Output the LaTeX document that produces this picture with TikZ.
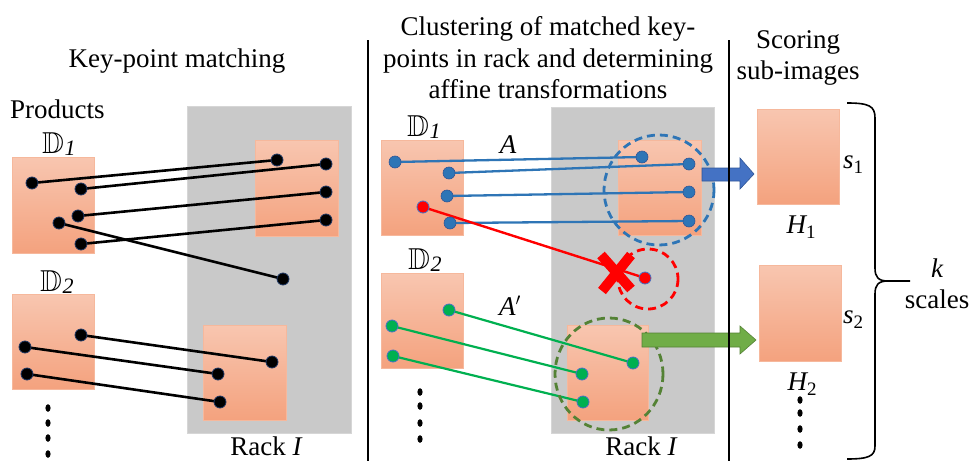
\documentclass[tikz,border=0pt]{standalone}
\usepackage{fontspec}
\setmainfont{Liberation Serif}
\usepackage{amssymb}
\pgfdeclarelayer{bg}\pgfdeclarelayer{lines}\pgfsetlayers{bg,lines,main}
\definecolor{orTop}{RGB}{248,198,176}
\definecolor{orBot}{RGB}{244,162,126}
\definecolor{orEdge}{RGB}{246,184,156}
\definecolor{rackgray}{RGB}{201,201,201}
\definecolor{rackedge}{RGB}{214,214,214}
\definecolor{kblue}{RGB}{46,117,182}
\definecolor{arrblue}{RGB}{68,114,196}
\definecolor{arrblueedge}{RGB}{47,85,151}
\definecolor{kgreen}{RGB}{0,176,80}
\definecolor{dgreen}{RGB}{84,130,53}
\definecolor{agreen}{RGB}{112,173,71}
\definecolor{agreenedge}{RGB}{84,130,53}
\definecolor{kred}{RGB}{255,0,0}
\definecolor{dotedge}{RGB}{31,56,100}
\newcommand\mySub[1]{\raisebox{-0.22em}{\fontsize{19}{19}\selectfont #1}}
\newcommand\myD[1]{\scalebox{1.12}{$\mathbb{D}$}\kern0.5pt\raisebox{-2pt}{\fontsize{22}{22}\selectfont\itshape #1}}
\tikzset{
  txt/.style={font=\fontsize{27}{31}\selectfont, inner sep=0pt, anchor=base},
  prodbox/.style={top color=orTop, bottom color=orBot, draw=orEdge, line width=0.8pt},
  rack/.style={fill=rackgray, draw=rackedge, line width=0.8pt},
  kdot/.style={circle, fill=black, draw=dotedge, line width=0.8pt, inner sep=0pt, minimum size=12pt},
  bdot/.style={circle, fill=kblue, draw=arrblueedge, line width=0.6pt, inner sep=0pt, minimum size=12pt},
  gdot/.style={circle, fill=kgreen, draw=arrblue, line width=0.8pt, inner sep=0pt, minimum size=12pt},
  rdot/.style={circle, fill=kred, draw=arrblue, line width=0.8pt, inner sep=0pt, minimum size=12pt},
  kline/.style={line width=2.6pt, black},
  bline/.style={line width=2.3pt, kblue},
  gline/.style={line width=2.2pt, kgreen},
  rline/.style={line width=2.4pt, kred},
  dcirc/.style={line width=2.8pt, dash pattern=on 8pt off 5pt},
  vdots/.style={fill=black},
  divider/.style={line width=2pt, black}
}
\begin{document}
\begin{tikzpicture}[x=1pt,y=-1pt]
\useasboundingbox (0,0) rectangle (969,461);
% ---------------- background shapes
\begin{pgfonlayer}{bg}
  \fill[white] (0,0) rectangle (969,461);
  \draw[rack] (187,106) rectangle (351,433);
  \draw[rack] (551,107) rectangle (714,433);
  \draw[prodbox] (12,157) rectangle (94,253);
  \draw[prodbox] (12,294) rectangle (94,389);
  \draw[prodbox] (255,140) rectangle (338,236);
  \draw[prodbox] (203,325) rectangle (286,420);
  \draw[prodbox] (381,140) rectangle (463,235);
  \draw[prodbox] (381,273) rectangle (463,368);
  \draw[prodbox] (618,140) rectangle (701,235);
  \draw[prodbox] (567,325) rectangle (648,420);
  \draw[prodbox] (757,109) rectangle (839,204);
  \draw[prodbox] (759,265) rectangle (841,361);
\end{pgfonlayer}
% ---------------- titles and labels
\node[txt] (t1) at (177,67) {Key-point matching};
\node[txt] (t2a) at (548,35) {Clustering of matched key-};
\node[txt] (t2b) at (548,67) {points in rack and determining};
\node[txt] (t2c) at (548,98) {affine transformations};
\node[txt] (t3a) at (798,48) {Scoring};
\node[txt] (t3b) at (798,79) {sub-images};
\node[txt, anchor=base west] (prod) at (10,118) {Products};
\node[txt, anchor=base west] (dl1) at (42,153) {\myD{1}};
\node[txt, anchor=base west] (dl2) at (40,291) {\myD{2}};
\node[txt, anchor=base west] (dm1) at (407,136) {\myD{1}};
\node[txt, anchor=base west] (dm2) at (408,269) {\myD{2}};
\node[txt] (la) at (508,153) {\itshape A};
\node[txt] (lap) at (510,315) {{\itshape A}$^\prime$};
\node[txt] (rk1) at (266,455) {Rack {\itshape I}};
\node[txt] (rk2) at (641,455) {Rack {\itshape I}};
\node[txt] (h1) at (801,233) {{\itshape H}\mySub{1}};
\node[txt] (h2) at (802,390) {{\itshape H}\mySub{2}};
\node[txt] (s1) at (853,168) {{\itshape s}\mySub{1}};
\node[txt] (s2) at (853,323) {{\itshape s}\mySub{2}};
\node[txt] (kk) at (937,277) {\itshape k};
\node[txt] (sc) at (937,308) {scales};
% ---------------- left panel dots
\node[kdot] (p1) at (32,183) {};
\node[kdot] (p2) at (81,189) {};
\node[kdot] (p3) at (78,216) {};
\node[kdot] (p4) at (59,223) {};
\node[kdot] (p5) at (81,244) {};
\node[kdot] (r1) at (277,160) {};
\node[kdot] (r2) at (326,164) {};
\node[kdot] (r3) at (326,192) {};
\node[kdot] (r4) at (326,220) {};
\node[kdot] (r5) at (283,279) {};
\node[kdot] (q1) at (81,335) {};
\node[kdot] (q2) at (25,347) {};
\node[kdot] (q3) at (27,374) {};
\node[kdot] (u1) at (272,362) {};
\node[kdot] (u2) at (218,374) {};
\node[kdot] (u3) at (220,402) {};
\begin{pgfonlayer}{lines}
  \draw[kline] (p1.center) -- (r1.center);
  \draw[kline] (p2.center) -- (r2.center);
  \draw[kline] (p3.center) -- (r3.center);
  \draw[kline] (p5.center) -- (r4.center);
  \draw[kline] (p4.center) -- (r5.center);
  \draw[kline] (q1.center) -- (u1.center);
  \draw[kline] (q2.center) -- (u2.center);
  \draw[kline] (q3.center) -- (u3.center);
\end{pgfonlayer}
% ---------------- middle panel
\node[bdot] (b1) at (395,162) {};
\node[bdot] (b2) at (449,173) {};
\node[bdot] (b3) at (447,196) {};
\node[bdot] (b4) at (450,223) {};
\node[bdot] (c1) at (642,157) {};
\node[bdot] (c2) at (689,164) {};
\node[bdot] (c3) at (689,192) {};
\node[bdot] (c4) at (689,221) {};
\node[gdot] (g1) at (449,310) {};
\node[gdot] (g2) at (392,326) {};
\node[gdot] (g3) at (393,356) {};
\node[gdot] (e1) at (633,363) {};
\node[gdot] (e2) at (582,374) {};
\node[gdot] (e3) at (583,402) {};
\begin{pgfonlayer}{lines}
  \draw[bline] (b1.center) -- (c1.center);
  \draw[bline] (b2.center) -- (c2.center);
  \draw[bline] (b3.center) -- (c3.center);
  \draw[bline] (b4.center) -- (c4.center);
  \draw[gline] (g1.center) -- (e1.center);
  \draw[gline] (g2.center) -- (e2.center);
  \draw[gline] (g3.center) -- (e3.center);
  \draw[dcirc, kblue] (659,190) circle (55);
  \draw[dcirc, kred] (648,279) circle (30);
  \draw[dcirc, dgreen] (609,374) ellipse (54 and 56);
\end{pgfonlayer}
% red rejected match
\coordinate (xr) at (616,272);
\draw[kred, line width=10pt] ([shift={(-15,-17)}]xr) -- ([shift={(15,17)}]xr);
\draw[kred, line width=10pt] ([shift={(15,-17)}]xr) -- ([shift={(-14,19)}]xr);
\node[rdot] (rl) at (423,207) {};
\node[rdot] (rr) at (645,278) {};
\begin{pgfonlayer}{lines}
  \draw[rline] (rl.center) -- (rr.center);
\end{pgfonlayer}
% block arrows
\draw[fill=arrblue, draw=arrblueedge, line width=0.6pt]
  (702,168) -- (740,168) -- (740,158) -- (754,174) -- (740,189) -- (740,181) -- (702,181) -- cycle;
\draw[fill=agreen, draw=agreenedge, line width=0.6pt]
  (642,333) -- (740,333) -- (740,326) -- (756,340) -- (740,354) -- (740,347) -- (642,347) -- cycle;
% vertical ellipsis dots
\foreach \yy in {408,423,438,454} \fill[vdots] (48,\yy) ellipse (2.6 and 3.8);
\foreach \yy in {392,406,423,439} \fill[vdots] (420,\yy) ellipse (2.6 and 3.8);
\foreach \yy in {400,413,429,445} \fill[vdots] (800,\yy) ellipse (2.6 and 3.8);
% dividers
\draw[divider] (368,40) -- (368,461);
\draw[divider] (729,40) -- (729,461);
% brace
\draw[line width=1.6pt, black]
  (847,103) .. controls (869,103) and (875,106) .. (875,118) -- (875,268)
  .. controls (875,277) and (878,281) .. (888,281) -- (910,281);
\draw[line width=1.6pt, black]
  (888,281) .. controls (878,281) and (875,285) .. (875,294) -- (875,446)
  .. controls (875,456) and (869,459) .. (847,459);
\end{tikzpicture}
\end{document}
